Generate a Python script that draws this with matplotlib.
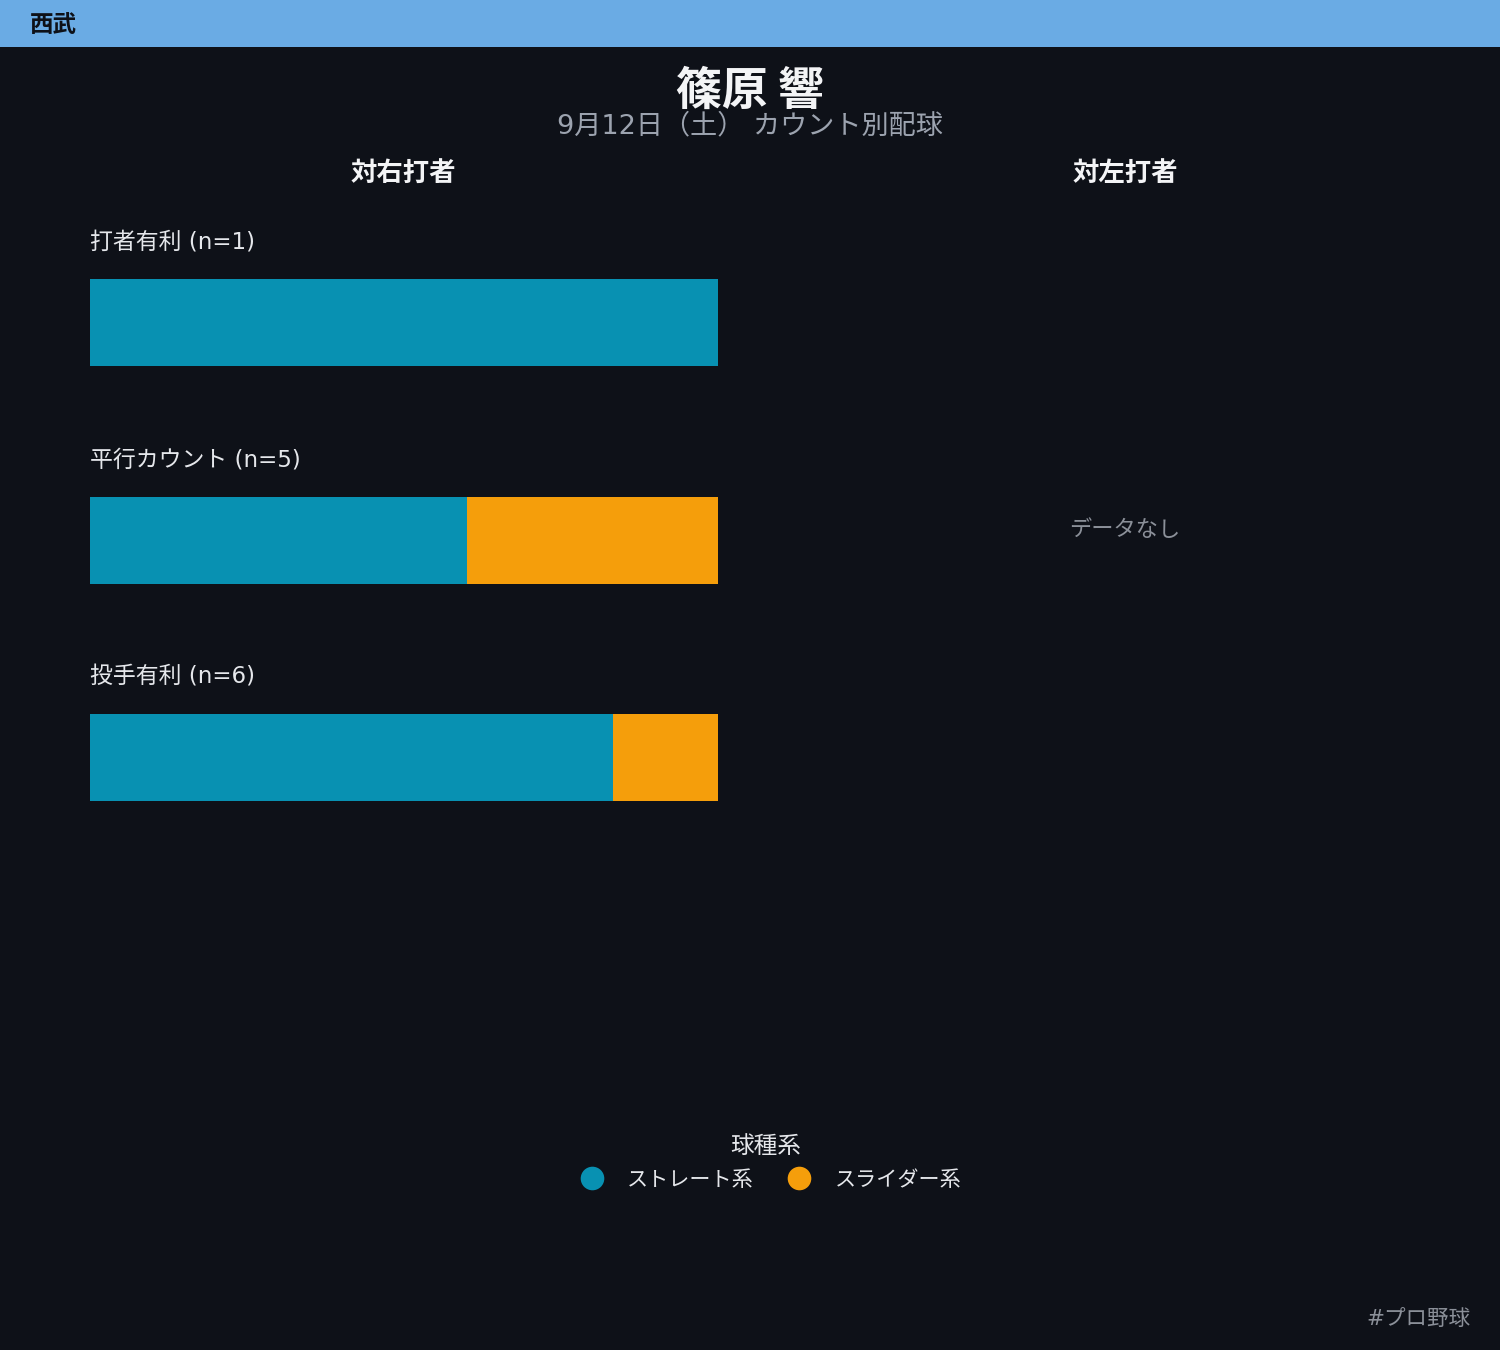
import matplotlib
matplotlib.use("Agg")
import matplotlib.pyplot as plt
from matplotlib.patches import Rectangle
from matplotlib.lines import Line2D

plt.rcParams['font.family'] = ['Noto Sans CJK JP', 'DejaVu Sans']
MIXED = ['DejaVu Sans', 'Noto Sans CJK JP']

# ---- data ----
team = "西武"
pitcher = "篠原 響"
subtitle = "9月12日（土） カウント別配球"
panel_titles = ["対右打者", "対左打者"]
situations = ["打者有利", "平行カウント", "投手有利"]
n_counts = [1, 5, 6]
pitch_types = ["ストレート系", "スライダー系"]
straight_share = [1.0, 3/5, 5/6]
slider_share = [0.0, 2/5, 1/6]
legend_title = "球種系"
no_data_text = "データなし"
hashtag = "#プロ野球"

colors = ["#0891b2", "#f59e0b"]
bg = "#0e1118"
banner_col = "#6aabe4"
W, H = 1500, 1350

fig = plt.figure(figsize=(15, 13.5), dpi=100, facecolor=bg)

# banner
fig.patches.append(Rectangle((0, 1 - 47 / H), 1, 47 / H, transform=fig.transFigure,
                             facecolor=banner_col, edgecolor='none', zorder=0))
fig.text(30 / W, 1 - 25 / H, team, fontsize=17, fontweight='bold', color="#0e1118",
         ha='left', va='center')

# titles
fig.text(0.5, 1 - 92 / H, pitcher, fontsize=33, fontweight='bold', color="#f3f4f6",
         ha='center', va='center')
fig.text(0.5, 1 - 126 / H, subtitle, fontsize=19.5, color="#9ca3af",
         ha='center', va='center', family=MIXED)

# left panel
axL = fig.add_axes([90 / W, 1 - 975 / H, 628 / W, 870 / H])
axL.set_facecolor(bg)
axL.set_xlim(0, 1)
axL.set_ylim(3, -1)
axL.axis('off')
rows = list(range(len(situations)))
axL.barh(rows, straight_share, height=0.4, left=0, color=colors[0], edgecolor='none')
axL.barh(rows, slider_share, height=0.4, left=straight_share, color=colors[1], edgecolor='none')
for r, s, n in zip(rows, situations, n_counts):
    axL.text(0, r - 0.37, f"{s} (n={n})", fontsize=16.5, color="#e5e7eb",
             ha='left', va='center', family=MIXED)

fig.text(403 / W, 1 - 173 / H, panel_titles[0], fontsize=19, fontweight='bold',
         color="#f3f4f6", ha='center', va='center')
fig.text(1125 / W, 1 - 173 / H, panel_titles[1], fontsize=19, fontweight='bold',
         color="#f3f4f6", ha='center', va='center')
fig.text(1125 / W, 1 - 530 / H, no_data_text, fontsize=16, color="#8b9099",
         ha='center', va='center')

# legend
handles = [Line2D([], [], linestyle='none', marker='o', markersize=17,
                  markerfacecolor=c, markeredgecolor='none') for c in colors]
leg = fig.legend(handles, pitch_types, loc='center', bbox_to_anchor=(766 / W, 1 - 1163 / H),
                 ncol=2, frameon=False, title=legend_title, fontsize=15.2,
                 title_fontsize=17, handletextpad=0.68, columnspacing=1.15,
                 labelcolor="#e5e7eb")
leg.get_title().set_color("#e5e7eb")

fig.text(1470 / W, 1 - 1320 / H, hashtag, fontsize=15.5, color="#8b9099",
         ha='right', va='center', family=MIXED)

fig.savefig("out.png", dpi=100, facecolor=bg)
